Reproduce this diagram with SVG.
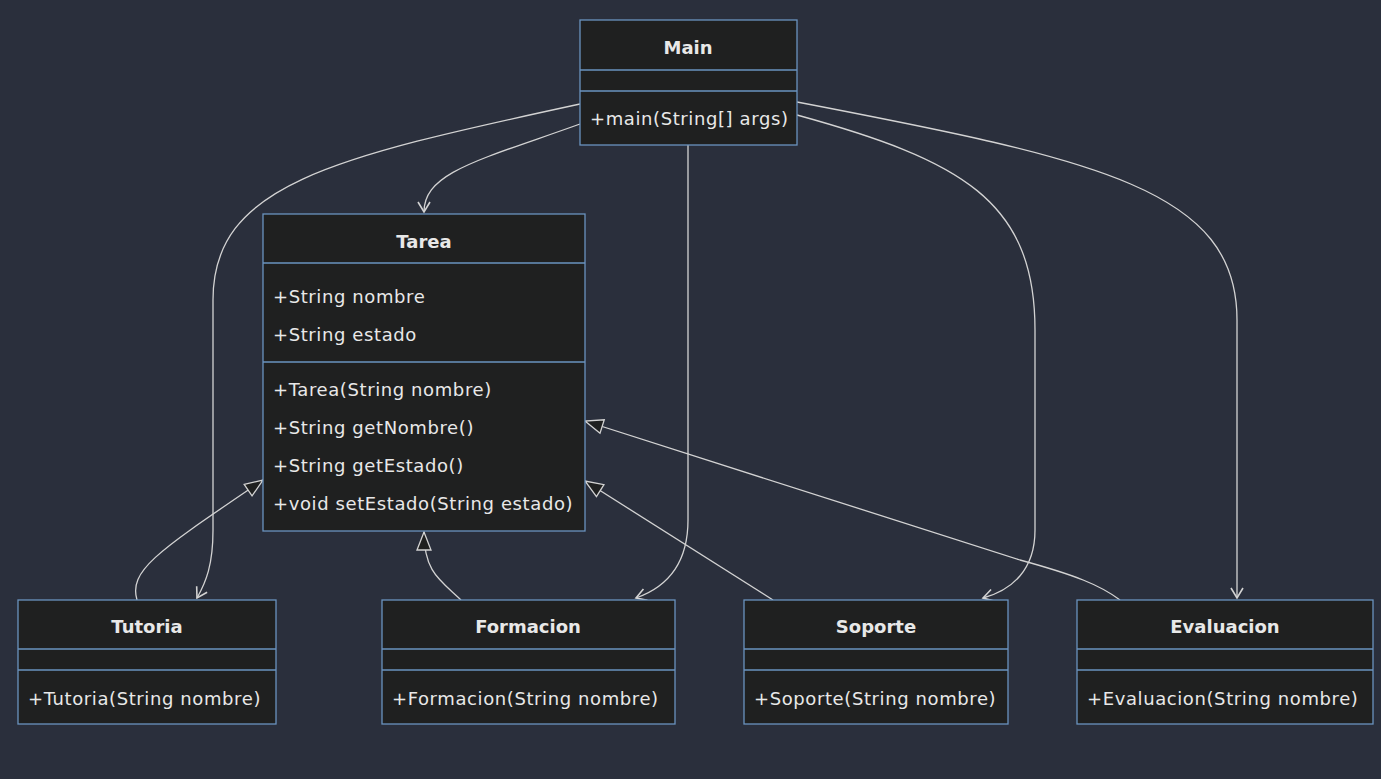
<svg xmlns="http://www.w3.org/2000/svg" width="1381" height="779" viewBox="0 0 1381 779">
<style>
.bg{fill:#2a2f3c}
.box{fill:#1f2020;stroke:#6a93bf;stroke-width:1.3}
.div{stroke:#6a93bf;stroke-width:1.3}
.t{font-family:"DejaVu Sans","Liberation Sans",sans-serif;font-size:18px;fill:#e8e8e8;dominant-baseline:central;letter-spacing:0.6px}
.h{font-weight:bold;text-anchor:middle;letter-spacing:0}
.e{fill:none;stroke:#d3d3d3;stroke-width:1.3}
.dep{marker-end:url(#arr)}
.inh{marker-end:url(#tri)}
</style>
<defs>
<marker id="arr" markerUnits="userSpaceOnUse" markerWidth="14" markerHeight="14" viewBox="0 0 14 14" refX="12" refY="7" orient="auto">
<path d="M2,1 L12,7 L2,13" fill="none" stroke="#d3d3d3" stroke-width="1.6"/>
</marker>
<marker id="tri" markerUnits="userSpaceOnUse" markerWidth="22" markerHeight="18" viewBox="0 0 22 18" refX="20" refY="9" orient="auto">
<path d="M2,2 L20,9 L2,16 Z" fill="#1f2020" stroke="#d3d3d3" stroke-width="1.3"/>
</marker>
</defs>
<rect class="bg" x="0" y="0" width="1381" height="779"/>
<g id="edges">
<path class="e dep" d="M580,104 C330,158 213,185 213,300 L213,530 C213,565 206,582 197,598"/>
<path class="e dep" d="M580,124 C480,160 424,172 424,212"/>
<path class="e dep" d="M688,145 L688,520 C688,560 670,586 636,598"/>
<path class="e dep" d="M797,115 C960,160 1035,200 1035,330 L1035,530 C1035,570 1012,590 983,598"/>
<path class="e dep" d="M797,102 C1100,160 1237,190 1237,320 L1237,598"/>
<path class="e inh" d="M137,600 C128,570 160,550 263,480"/>
<path class="e inh" d="M461,600 C440,580 424,572 424,532"/>
<path class="e inh" d="M773,600 L585,481"/>
<path class="e inh" d="M1120,600 C1100,585 1075,575 1020,560 L585,421"/>
</g>
<g id="Main">
<rect class="box" x="580" y="20" width="217" height="125"/>
<line class="div" x1="580" y1="70" x2="797" y2="70"/>
<line class="div" x1="580" y1="91" x2="797" y2="91"/>
<text class="t h" x="688" y="47">Main</text>
<text class="t" x="590" y="118">+main(String[] args)</text>
</g>
<g id="Tarea">
<rect class="box" x="263" y="214" width="322" height="317"/>
<line class="div" x1="263" y1="263" x2="585" y2="263"/>
<line class="div" x1="263" y1="362" x2="585" y2="362"/>
<text class="t h" x="424" y="241">Tarea</text>
<text class="t" x="273" y="296">+String nombre</text>
<text class="t" x="273" y="334">+String estado</text>
<text class="t" x="273" y="389">+Tarea(String nombre)</text>
<text class="t" x="273" y="427">+String getNombre()</text>
<text class="t" x="273" y="465">+String getEstado()</text>
<text class="t" x="273" y="503">+void setEstado(String estado)</text>
</g>
<g id="Tutoria">
<rect class="box" x="18" y="600" width="258" height="124"/>
<line class="div" x1="18" y1="649" x2="276" y2="649"/>
<line class="div" x1="18" y1="670" x2="276" y2="670"/>
<text class="t h" x="147" y="626">Tutoria</text>
<text class="t" x="28" y="698">+Tutoria(String nombre)</text>
</g>
<g id="Formacion">
<rect class="box" x="382" y="600" width="293" height="124"/>
<line class="div" x1="382" y1="649" x2="675" y2="649"/>
<line class="div" x1="382" y1="670" x2="675" y2="670"/>
<text class="t h" x="528" y="626">Formacion</text>
<text class="t" x="392" y="698">+Formacion(String nombre)</text>
</g>
<g id="Soporte">
<rect class="box" x="744" y="600" width="264" height="124"/>
<line class="div" x1="744" y1="649" x2="1008" y2="649"/>
<line class="div" x1="744" y1="670" x2="1008" y2="670"/>
<text class="t h" x="876" y="626">Soporte</text>
<text class="t" x="754" y="698">+Soporte(String nombre)</text>
</g>
<g id="Evaluacion">
<rect class="box" x="1077" y="600" width="296" height="124"/>
<line class="div" x1="1077" y1="649" x2="1373" y2="649"/>
<line class="div" x1="1077" y1="670" x2="1373" y2="670"/>
<text class="t h" x="1225" y="626">Evaluacion</text>
<text class="t" x="1087" y="698">+Evaluacion(String nombre)</text>
</g>
</svg>
